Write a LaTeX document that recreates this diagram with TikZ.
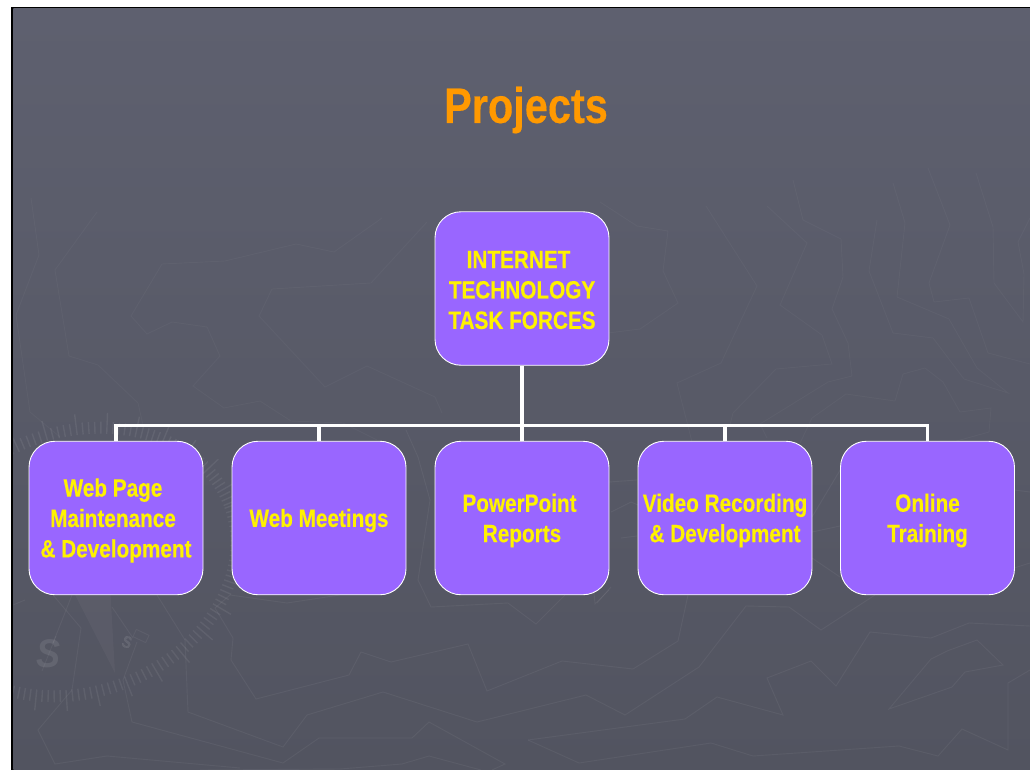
\documentclass[tikz,border=0pt]{standalone}
\usepackage{fontspec}
\setmainfont{Liberation Sans}
\newfontfamily\slidefont[FakeStretch=0.83,FakeBold=0.3]{Liberation Sans Bold}
\newfontfamily\ghostfont[FakeStretch=0.9]{Liberation Sans Bold Italic}
\definecolor{slidetop}{HTML}{5E606F}
\definecolor{slidebot}{HTML}{525460}
\definecolor{boxfill}{HTML}{9966FF}
\definecolor{titleorange}{HTML}{FF9900}
\tikzset{
  bgline/.style={draw=white,draw opacity=0.032,line width=0.9pt,line join=miter},
  bglow/.style={draw=white,draw opacity=0.05,line width=0.9pt,line join=miter},
  bgghost/.style={text=white,text opacity=0.09},
  tickmark/.style={draw=white,draw opacity=0.065,line width=1.4pt},
  orgbox/.style={draw=white,line width=0.9pt,fill=boxfill,rounded corners=26pt,
    minimum width=174pt,minimum height=153.5pt,inner sep=0pt},
  orgtext/.style={inner sep=0pt,text=yellow,align=center,font=\fontsize{25}{30.4}\slidefont},
  conn/.style={draw=white,line width=3.2pt,line join=miter}
}
\begin{document}
\begin{tikzpicture}[x=1pt,y=-1pt]
\useasboundingbox (0,0) rectangle (1030,770);
\clip (0,0) rectangle (1030,770);
\fill[white] (0,0) rectangle (1030,770);
\fill[black] (11,7) rectangle (1030,770);
\shade[top color=slidetop,bottom color=slidebot] (13.3,9) rectangle (1030,770);

\begin{scope}
\clip (13.3,9) rectangle (1030,770);
% faint background map
\draw[bgline] (31,198)--(39,255)--(16,315)--(30,412)--(60,437);
\draw[bgline] (97,212)--(55,270)--(69,356)--(98,365)--(138,403)--(143,425);
\draw[bgline] (382,218)--(334,252)--(296,244)--(225,261)--(162,264)--(131,316)--(147,334)--(172,322)--(207,327)--(220,356)--(193,386)--(224,408)--(260,401)--(291,421)--(343,423)--(377,440);
\draw[bgline] (427,222)--(371,283)--(272,289)--(259,316)--(325,387)--(367,366)--(435,397)--(442,413);
\draw[bgline] (600,202)--(637,226)--(668,231)--(663,271)--(678,303)--(640,329)--(608,333);
\draw[bgline] (706,206)--(757,286)--(721,363)--(677,383)--(692,442);
\draw[bgline] (767,206)--(807,243)--(780,305)--(822,335)--(832,364)--(776,369)--(733,413)--(730,425);
\draw[bgline] (793,180)--(803,220)--(841,239)--(843,277)--(832,309)--(848,343)--(852,376)--(828,382)--(760,424)--(767,438);
\draw[bgline] (877,220)--(869,271)--(893,333)--(933,338)--(964,379)--(1008,393)--(977,368)--(949,319)--(897,297)--(905,223)--(893,183);
\draw[bgline] (928,168)--(950,225)--(929,283)--(934,302)--(969,298)--(988,353)--(1030,364);
\draw[bgline] (976,173)--(993,227)--(994,283)--(1023,322)--(1024,274)--(1018,242)--(1030,218);
\draw[bgline] (800,443)--(812,418)--(846,394)--(895,401)--(903,374)--(925,368)--(943,382)--(960,412)--(991,408)--(989,432)--(953,442);
\draw[bglow] (406,430)--(418,457)--(430,500)--(418,580)--(431,607)--(508,603)--(536,624)--(565,595);
\draw[bglow] (609,590)--(595,604)--(594,593);
\draw[bglow] (688,595)--(678,641)--(633,669)--(562,661)--(487,691)--(468,644)--(391,662)--(361,652)--(349,675)--(256,699)--(231,660)--(233,638)--(215,608)--(230,595)--(287,603)--(340,595);
\draw[bglow] (157,595)--(185,640)--(188,712)--(283,747)--(307,715)--(383,692)--(477,722)--(586,695)--(625,715)--(699,667)--(746,606)--(789,607)--(821,630)--(875,595);
\draw[bglow] (528,740)--(685,719)--(717,697)--(783,715)--(767,678)--(811,661)--(836,686)--(870,632)--(931,638)--(969,623)--(1030,626);
\draw[bglow] (528,740)--(579,763)--(711,743)--(753,756)--(899,746)--(938,756)--(962,729)--(1008,750)--(1008,683)--(1030,670);
\draw[bglow] (889,709)--(952,687)--(965,672)--(1003,665)--(977,640)--(947,651)--(931,659)--cycle;
\draw[bglow] (137,642)--(123,680)--(132,722)--(283,763)--(319,738)--(412,738)--(429,722)--(505,764)--(492,770);
\draw[bglow] (200,770)--(340,769)--(402,764)--(429,756)--(481,770);
\draw[bglow] (72,595)--(53,643);
\draw[bglow] (53,595)--(81,628)--(72,690)--(38,730)--(55,764)--(107,756)--(240,768);
\draw[bglow] (112,607)--(133,638);
\draw[bglow] (609,482)--(637,480);
\draw[bglow] (611,512)--(631,502)--(638,505);
\draw[bglow] (621,538)--(637,536);
\draw[bglow] (597,603)--(611,587);
\draw[bglow] (812,517)--(842,467);
\draw[bglow] (812,532)--(840,526);
\draw[bglow] (812,558)--(840,577);
\draw[bglow] (1014,490)--(1030,492);
\draw[bglow] (1014,568)--(1030,563);
\draw[bglow] (13,605)--(25,600);

% compass
\fill[white,fill opacity=0.035] (70,585)--(110,585)--(115,673)--cycle;
\foreach \i in {0,...,163}{
  \pgfmathsetmacro{\tt}{\i*2.2}
  \pgfmathsetmacro{\px}{77+163*cos(\tt)*0.94+130*sin(\tt)*0.342}
  \pgfmathsetmacro{\py}{562-163*cos(\tt)*0.342+130*sin(\tt)*0.94}
  \pgfmathsetmacro{\ca}{cos(\tt)/1.63}
  \pgfmathsetmacro{\sb}{sin(\tt)/1.30}
  \pgfmathsetmacro{\nxr}{\ca*0.94+\sb*0.342}
  \pgfmathsetmacro{\nyr}{-\ca*0.342+\sb*0.94}
  \pgfmathsetmacro{\nn}{sqrt(\nxr*\nxr+\nyr*\nyr)}
  \pgfmathsetmacro{\nx}{\nxr/\nn}
  \pgfmathsetmacro{\ny}{\nyr/\nn}
  \pgfmathtruncatemacro{\five}{mod(\i,5)}
  \pgfmathsetmacro{\outer}{\five==0 ? 15 : 6}
  \draw[tickmark] (\px-6*\nx,\py-6*\ny)--(\px+\outer*\nx,\py+\outer*\ny);
}
\node[bgghost,font=\fontsize{40}{40}\ghostfont,inner sep=0pt] (bigS) at (49,654) {S};
\draw[bglow] (42,671)--(56,636);
\node[bgghost,font=\fontsize{17}{17}\slidefont,rotate=-20,inner sep=0pt] (smallS) at (127,642) {S};
\draw[bglow,rotate around={-25:(141,636)}] (134,632) rectangle (148,640);
\end{scope}

% title
\node[text=titleorange,font=\fontsize{50}{50}\slidefont,inner sep=0pt] (title) at (526,110) {Projects};

% org chart
\node[orgbox] (root) at (522,288.5) {};
\node[orgbox] (c1) at (116,518) {};
\node[orgbox] (c2) at (319,518) {};
\node[orgbox] (c3) at (522,518) {};
\node[orgbox] (c4) at (725,518) {};
\node[orgbox] (c5) at (927.5,518) {};
\node[orgtext] (roott) at ([yshift=-1.5pt]root.center) {INTERNET\rule{7pt}{0pt}\\TECHNOLOGY\\TASK FORCES};
\node[orgtext] (c1t) at ([yshift=-2.5pt]c1.center) {Web Page\rule{6pt}{0pt}\\Maintenance\rule{6pt}{0pt}\\\&\ Development};
\node[orgtext] (c2t) at ([yshift=-2.5pt]c2.center) {Web Meetings};
\node[orgtext] (c3t) at ([yshift=-2.5pt]c3.center) {PowerPoint\rule{5pt}{0pt}\\Reports};
\node[orgtext] (c4t) at ([yshift=-2.5pt]c4.center) {Video Recording\\\&\ Development};
\node[orgtext] (c5t) at ([yshift=-2.5pt]c5.center) {Online\\Training};
\coordinate (bus) at (522,425.5);
\draw[conn] (root.south) -- (bus);
\draw[conn] (c1.north) |- (bus);
\draw[conn] (c5.north) |- (bus);
\draw[conn] (c2.north) -- (c2.north |- bus);
\draw[conn] (c3.north) -- (bus);
\draw[conn] (c4.north) -- (c4.north |- bus);
\end{tikzpicture}
\end{document}
